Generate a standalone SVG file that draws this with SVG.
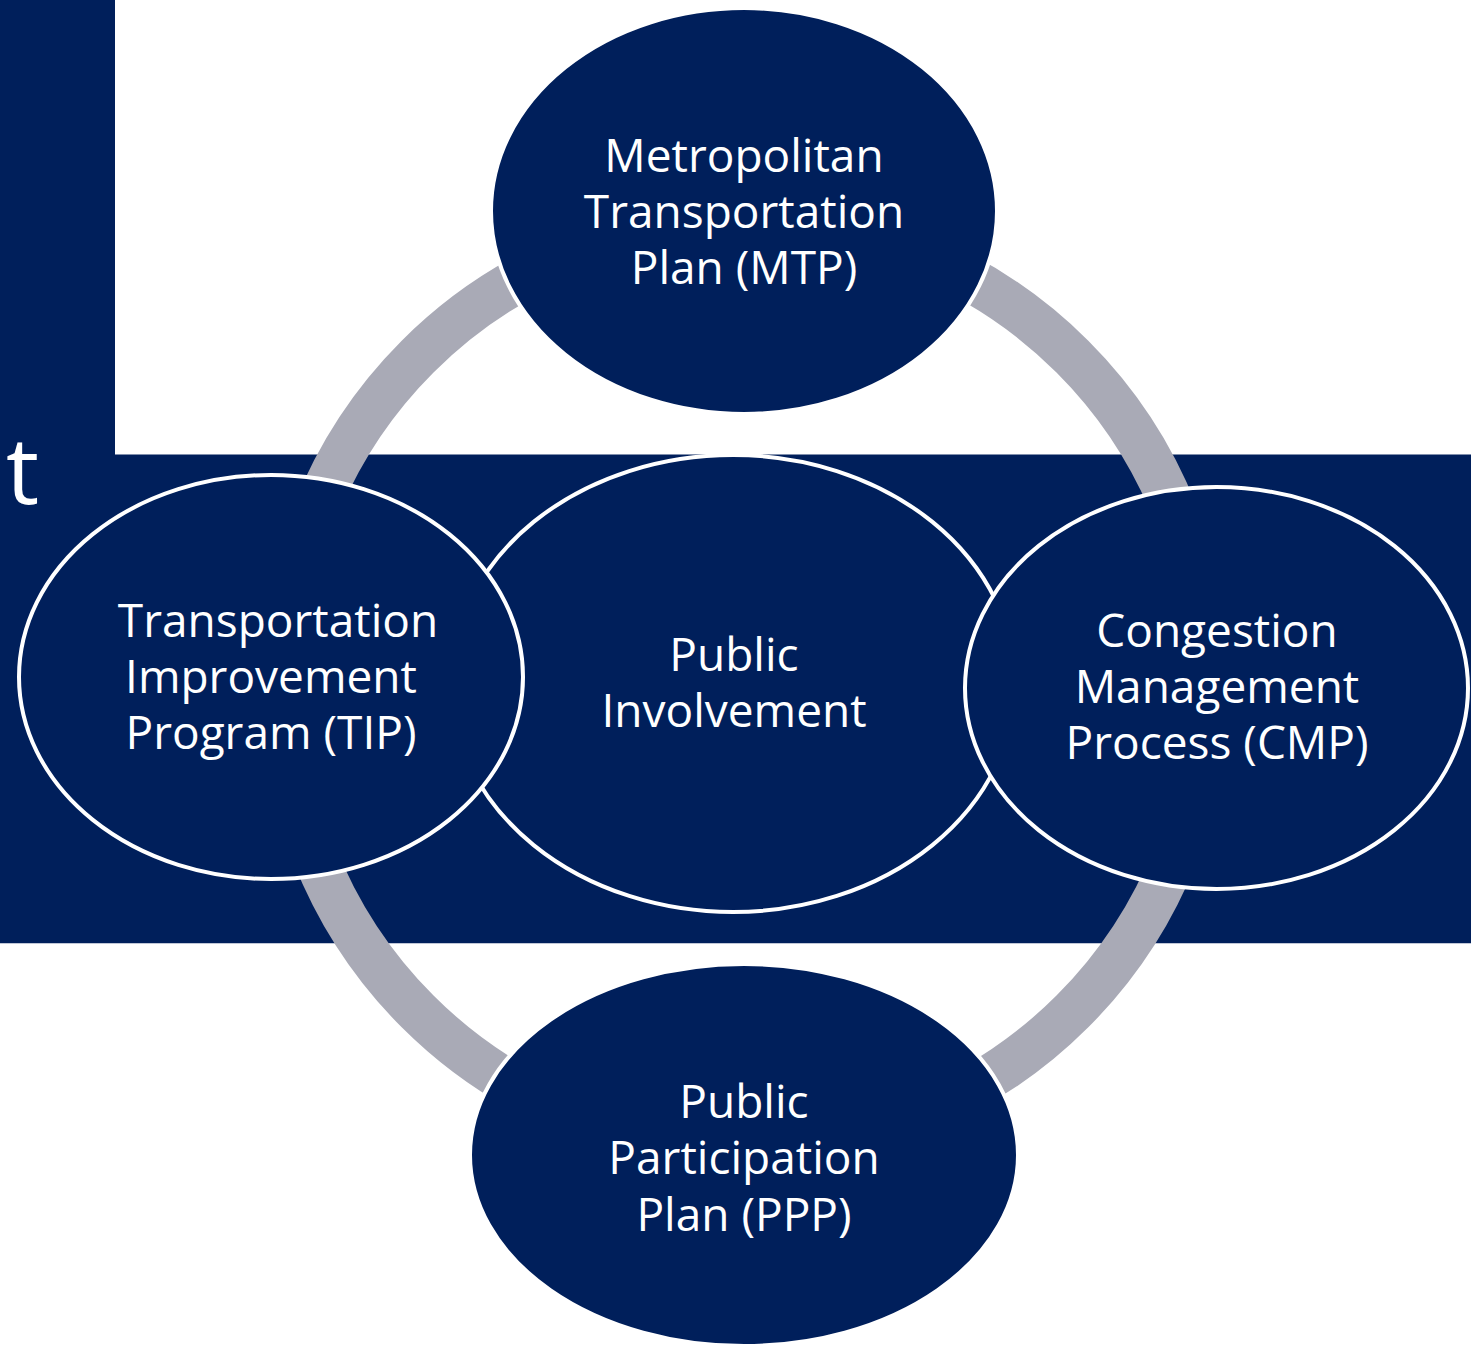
<svg xmlns="http://www.w3.org/2000/svg" width="1471" height="1345" viewBox="0 0 1471 1345">
  <style>
    .node { fill: #001f5b; stroke: #ffffff; stroke-width: 4; }
    .lbl { font-family: "Open Sans", "Noto Sans", "Liberation Sans", sans-serif; font-size: 46px; fill: #ffffff; text-anchor: middle; }
    .ring { fill: none; stroke: #a9aab6; stroke-width: 45; }
  </style>
  <rect x="0" y="0" width="1471" height="1345" fill="#ffffff"/>
  <g id="background">
    <path d="M0,0 H115 V454.5 H1471 V943.3 H0 Z" fill="#001f5b"/>
    <text x="6" y="504" font-family="'Open Sans', 'Noto Sans', sans-serif" font-size="93" fill="#ffffff">t</text>
  </g>
  <g id="connectors">
    <circle class="ring" cx="745" cy="684" r="463"/>
  </g>
  <g id="node-pi">
    <ellipse class="node" cx="733" cy="683.5" rx="282" ry="228.5"/>
    <text class="lbl" x="734" y="671">Public</text>
    <text class="lbl" x="734" y="727">Involvement</text>
  </g>
  <g id="node-mtp">
    <ellipse class="node" cx="744" cy="211" rx="253" ry="203"/>
    <text class="lbl" x="744" y="172">Metropolitan</text>
    <text class="lbl" x="744" y="228">Transportation</text>
    <text class="lbl" x="744" y="284">Plan (MTP)</text>
  </g>
  <g id="node-tip">
    <ellipse class="node" cx="271" cy="677" rx="252" ry="202"/>
    <text class="lbl" x="278" y="637">Transportation</text>
    <text class="lbl" x="271" y="693">Improvement</text>
    <text class="lbl" x="271" y="749">Program (TIP)</text>
  </g>
  <g id="node-cmp">
    <ellipse class="node" cx="1216.5" cy="688" rx="251.5" ry="201"/>
    <text class="lbl" x="1217" y="647">Congestion</text>
    <text class="lbl" x="1217" y="703">Management</text>
    <text class="lbl" x="1217" y="759">Process (CMP)</text>
  </g>
  <g id="node-ppp">
    <ellipse class="node" cx="744" cy="1155" rx="274" ry="191"/>
    <text class="lbl" x="744" y="1118">Public</text>
    <text class="lbl" x="744" y="1174">Participation</text>
    <text class="lbl" x="744" y="1231">Plan (PPP)</text>
  </g>
</svg>
